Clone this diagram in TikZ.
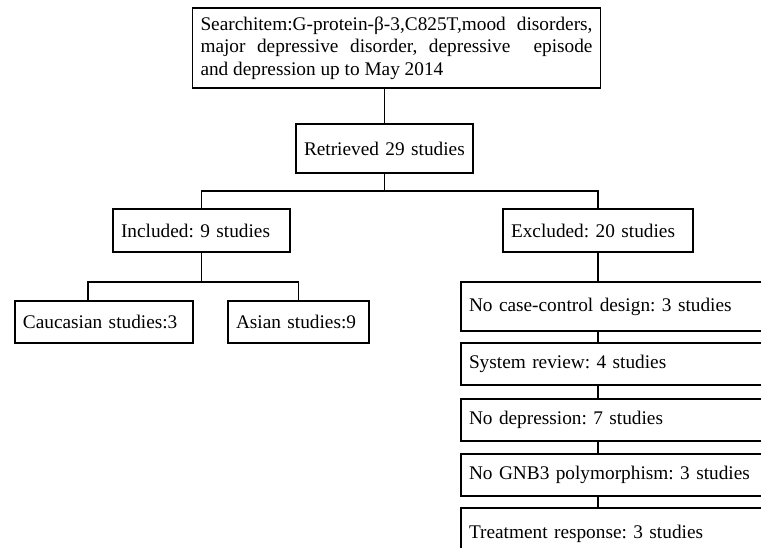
\documentclass[tikz,border=0pt]{standalone}
\usepackage{fontspec}
\setmainfont{Liberation Serif}
\usepackage{tikz}
\frenchspacing

\begin{document}
\begin{tikzpicture}[x=1pt,y=-1pt,
  box/.style={draw, line width=1.5pt, inner xsep=8pt, inner ysep=0pt, align=left,
    font=\fontsize{19.3}{22.5}\selectfont},
  link/.style={line width=1.2pt}]

\useasboundingbox (0,0) rectangle (761,548);
\clip (0,0) rectangle (761,548);

\node [box, align=justify, text width=392pt, minimum height=80pt] (search) at (396.5,48)
  {Searchitem:G-protein-β-3,C825T,mood disorders,\linebreak
   major depressive disorder, depressive\ \ episode\linebreak
   and depression up to May 2014};
\node [box, text width=161pt, minimum height=49pt] (retr)  at (384.5,148.5) {Retrieved 29 studies};
\node [box, text width=161pt, minimum height=43pt] (incl)  at (201.5,230.5) {Included: 9 studies};
\node [box, text width=174pt, minimum height=43pt] (excl)  at (598,230.5)   {Excluded: 20 studies};
\node [box, text width=162pt, minimum height=42pt] (cauc)  at (104,322)     {Caucasian studies:3};
\node [box, text width=125pt, minimum height=42pt] (asian) at (298.5,322)   {Asian studies:9};

\node [box, text width=313pt, minimum height=49pt] (ex1) at (625.5,306.5) {No case-control design: 3 studies};
\node [box, text width=313pt, minimum height=42pt] (ex2) at (625.5,364)   {System review: 4 studies};
\node [box, text width=313pt, minimum height=42pt] (ex3) at (625.5,420)   {No depression: 7 studies};
\node [box, text width=313pt, minimum height=42pt] (ex4) at (625.5,475)   {No GNB3 polymorphism: 3 studies};
\node [box, text width=313pt, minimum height=52pt] (ex5) at (625.5,534)   {Treatment response: 3 studies};

\coordinate (jtop) at (0,191);
\coordinate (jinc) at (0,282);

\draw [link] (retr.north) -- (retr.north |- search.south);
\draw [link] (retr.south) -- (retr.south |- jtop);
\draw [link] (incl.north) |- (jtop -| excl.north) -- (excl.north);

\draw [link] (incl.south) -- (incl.south |- jinc);
\draw [link] ([xshift=-16pt]cauc.north) |- (jinc -| asian.north) -- (asian.north);

\draw [link] (excl.south) -- (excl.south |- ex1.north);
\foreach \a/\b in {ex1/ex2, ex2/ex3, ex3/ex4, ex4/ex5}
  \draw [link] (excl.south |- \a.south) -- (excl.south |- \b.north);
\end{tikzpicture}
\end{document}
